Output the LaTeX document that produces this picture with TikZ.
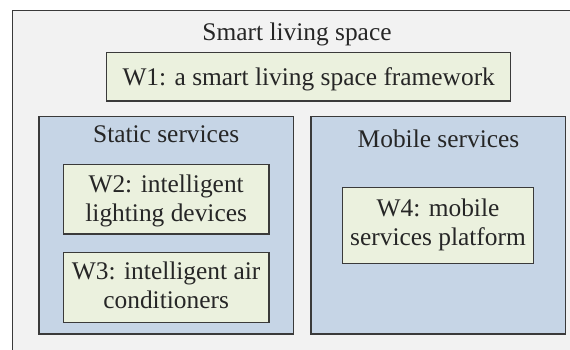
\documentclass[tikz,border=0pt]{standalone}
\usepackage{fontspec}
\setmainfont{Liberation Serif}
\definecolor{spacegray}{HTML}{F2F2F2}
\definecolor{svcblue}{HTML}{C6D5E6}
\definecolor{wgreen}{HTML}{EBF1DE}
\definecolor{edgegray}{HTML}{3A3A3A}
\begin{document}
\begin{tikzpicture}[x=1pt,y=-1pt,
  frame/.style={draw=edgegray, line width=1.1pt, inner sep=0pt, rectangle},
  outerbox/.style={frame, fill=spacegray},
  svcbox/.style={frame, fill=svcblue},
  wbox/.style={frame, fill=wgreen},
  txt/.style={inner sep=0pt, font=\fontsize{25.4}{29}\selectfont, text=black!85}]
\useasboundingbox (0,0) rectangle (570,349);
\clip (0,0) rectangle (570,349);
\fill[white] (0,0) rectangle (570,349);
% outer living space (extends past the right and bottom edges)
\node[outerbox, anchor=north west, minimum width=580pt, minimum height=360pt] (space) at (11.7,10.3) {};
\node[txt, anchor=base] (spacet) at (297,40.5) {Smart living space};
% W1
\node[wbox, minimum width=404pt, minimum height=48.3pt] (w1) at (308.7,76.85) {};
\node[txt, anchor=base] (w1t) at (308.7,85) {W1: a smart living space framework};
% Static services
\node[svcbox, minimum width=254.3pt, minimum height=217.3pt] (static) at (166.15,225.35) {};
\node[txt, anchor=base] (statict) at (166.15,142) {Static services};
\node[wbox, minimum width=205.7pt, minimum height=69.7pt] (w2) at (166.15,199.15) {};
\node[txt, anchor=base] (w2t) at (166.15,192.7) {\begin{tabular}[t]{@{}c@{}}W2: intelligent\\lighting devices\end{tabular}};
\node[wbox, minimum width=205.7pt, minimum height=70pt] (w3) at (166.15,287.3) {};
\node[txt, anchor=base] (w3t) at (166.15,279.3) {\begin{tabular}[t]{@{}c@{}}W3: intelligent air\\conditioners\end{tabular}};
% Mobile services
\node[svcbox, minimum width=254.3pt, minimum height=217.3pt] (mobile) at (438.15,225.35) {};
\node[txt, anchor=base] (mobilet) at (438.5,147.7) {Mobile services};
\node[wbox, minimum width=191.4pt, minimum height=76pt] (w4) at (438,225.3) {};
\node[txt, anchor=base] (w4t) at (438,216.7) {\begin{tabular}[t]{@{}c@{}}W4: mobile\\services platform\end{tabular}};
\end{tikzpicture}
\end{document}
